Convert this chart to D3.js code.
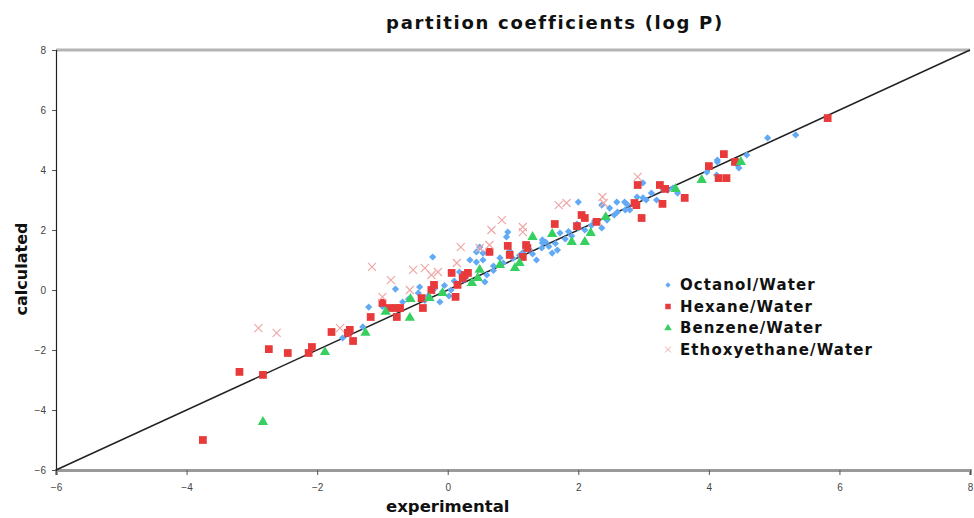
<!DOCTYPE html>
<html>
<head>
<meta charset="utf-8">
<script src="https://cdn.jsdelivr.net/npm/d3@7"></script>
<style>
  body { margin: 0; background: #fff; }
  .tick text { font-family: "Liberation Sans", sans-serif; font-size: 10px; fill: #444; }
</style>
</head>
<body>
<div id="chart"></div>
<script>
// data: [experimental, calculated]
var octanol = [[-1.61,-1.6],[-1.3,-1.23],[-1.21,-0.57],[-1.0,-0.55],[-0.8,0.03],[-0.69,-0.4],[-0.6,-0.3],
  [-0.43,0.1],[-0.45,-0.1],[-0.3,-0.2],[-0.23,1.1],[-0.12,-0.4],[-0.08,-0.07],[-0.2,0.05],[0.05,0.0],
  [0.1,0.3],[0.18,0.6],[0.34,1.0],[0.44,0.93],[0.44,1.27],[0.54,1.0],[0.54,1.23],[0.49,1.43],[0.57,0.27],
  [0.6,0.5],[0.7,0.65],[0.8,1.07],[0.9,1.77],[0.92,1.93],[0.85,0.9],[1.0,1.05],[1.36,1.0],[1.44,1.4],
  [1.45,1.57],[1.45,1.67],[1.6,1.23],[1.68,1.33],[1.72,1.9],[1.8,1.7],[1.9,1.8],[1.98,2.2],[2.0,2.07],
  [2.0,2.93],[2.1,2.0],[2.36,2.07],[2.36,2.83],[2.44,2.33],[2.48,2.73],[2.59,2.93],[2.6,2.6],[2.71,2.93],
  [2.72,2.67],[2.79,2.67],[2.99,3.07],[2.99,3.57],[3.04,3.0],[3.12,3.23],[3.2,3.0],[3.37,3.33],[3.52,3.23],
  [3.97,3.93],[4.12,3.83],[4.13,4.33],[4.13,4.27],[4.44,4.17],[4.46,4.07],[4.58,4.5],[4.9,5.07],[5.33,5.17],
  [0.25,0.35],[1.15,1.25],[1.3,1.2],[1.55,1.45],[2.25,2.3],[2.75,2.85],[3.3,3.35],[0.7,0.8],[-0.35,-0.35],
  [0.02,-0.2],[1.1,1.15],[1.25,1.35],[1.5,1.6],[1.65,1.55],[1.85,1.95],[2.2,2.15],[2.55,2.5],[2.9,3.1],
  [3.45,3.4],[0.3,0.55],[-0.05,0.15],[0.95,1.3]];

var hexane = [[-3.75,-5.0],[-3.19,-2.73],[-2.83,-2.83],[-2.74,-1.97],[-2.45,-2.1],[-2.13,-2.1],[-2.08,-1.9],
  [-1.78,-1.4],[-1.5,-1.33],[-1.53,-1.43],[-1.45,-1.7],[-1.18,-0.9],[-1.0,-0.43],[-0.89,-0.6],[-0.8,-0.6],
  [-0.73,-0.6],[-0.78,-0.9],[-0.4,-0.27],[-0.38,-0.6],[-0.25,0.0],[-0.21,0.17],[0.06,0.57],[0.12,-0.23],
  [0.15,0.17],[0.23,0.4],[0.26,0.5],[0.31,0.57],[0.64,1.27],[0.92,1.47],[0.95,1.17],[1.15,1.1],[1.22,1.4],
  [1.2,1.5],[1.64,2.2],[1.98,2.13],[2.05,2.5],[2.1,2.4],[2.28,2.27],[2.86,2.9],[2.89,2.83],[2.91,3.5],
  [2.97,2.4],[3.25,3.5],[3.33,3.37],[3.29,2.87],[3.63,3.07],[4.0,4.13],[4.15,3.73],[4.27,3.73],[4.23,4.53],
  [4.4,4.27],[5.82,5.73]];

var benzene = [[-2.83,-4.4],[-1.88,-2.07],[-1.26,-1.43],[-0.95,-0.73],[-0.58,-0.93],[-0.57,-0.3],[-0.28,-0.27],
  [-0.08,-0.1],[0.37,0.23],[0.46,0.4],[0.49,0.67],[0.8,0.83],[1.03,0.73],[1.1,0.9],[1.3,1.77],[1.6,1.87],
  [1.9,1.6],[2.1,1.6],[2.19,1.9],[2.42,2.43],[3.49,3.37],[3.89,3.67],[4.49,4.27]];

var ethoxy = [[-2.9,-1.27],[-2.62,-1.43],[-1.65,-1.27],[-1.16,0.77],[-0.87,0.33],[-1.0,-0.23],[-0.58,0.0],
  [-0.53,0.67],[-0.35,0.73],[-0.25,0.5],[-0.15,0.6],[0.14,0.9],[0.2,1.43],[0.49,1.4],[0.64,1.5],[0.67,2.0],
  [0.83,2.33],[1.15,2.1],[1.15,1.93],[1.7,2.83],[1.82,2.9],[2.37,3.1],[2.39,2.9],[2.91,3.77]];

var seriesNames = ["Octanol/Water", "Hexane/Water", "Benzene/Water", "Ethoxyethane/Water"];
var xTicks = [-6, -4, -2, 0, 2, 4, 6, 8];
var yTicks = [-6, -4, -2, 0, 2, 4, 6, 8];

var svgWidth = 974, svgHeight = 518;
var margin = {top: 50, right: 4, bottom: 48, left: 56};

var svg = d3.select('#chart').append('svg')
  .attr('width', svgWidth)
  .attr('height', svgHeight);
var width = svgWidth - margin.left - margin.right;
var height = svgHeight - margin.top - margin.bottom;
var g = svg.append('g')
  .attr('transform', 'translate(' + margin.left + ',' + margin.top + ')');

var x = d3.scaleLinear().domain([-6, 8]).range([0, width]);
var y = d3.scaleLinear().domain([-6, 8]).range([height, 0]);

// top border
g.append('line')
  .attr('x1', 0).attr('x2', width)
  .attr('y1', 0).attr('y2', 0)
  .attr('stroke', '#b4b4b4').attr('stroke-width', 3);

// axes
var xAxis = g.append('g')
  .attr('transform', 'translate(0,' + height + ')')
  .call(d3.axisBottom(x).tickValues(xTicks).tickSize(5).tickPadding(9));
xAxis.select('.domain').attr('stroke', '#9a9a9a').attr('stroke-width', 3);
xAxis.selectAll('.tick line').attr('stroke', '#555');

var yAxis = g.append('g')
  .call(d3.axisLeft(y).tickValues(yTicks).tickSize(4).tickPadding(6));
yAxis.select('.domain').attr('stroke', '#222').attr('stroke-width', 1.2);
yAxis.selectAll('.tick line').attr('stroke', '#555');

// y = x reference line
var diag = d3.line()
  .x(function(d) { return x(d); })
  .y(function(d) { return y(d); });
g.append('path')
  .datum([-6, 8])
  .attr('fill', 'none')
  .attr('stroke', '#222')
  .attr('stroke-width', 1.5)
  .attr('d', diag);

function drawSymbols(data, type, size, fill, rot) {
  g.append('g').selectAll('path')
    .data(data)
    .enter().append('path')
    .attr('transform', function(d) {
      return 'translate(' + x(d[0]) + ',' + y(d[1]) + ')' + (rot ? ' rotate(' + rot + ')' : '');
    })
    .attr('d', d3.symbol().type(type).size(size))
    .attr('fill', fill);
}

drawSymbols(octanol, d3.symbolSquare, 26, '#62aaf5', 45);
drawSymbols(hexane, d3.symbolSquare, 60, '#e8393b');
drawSymbols(benzene, d3.symbolTriangle, 46, '#35d060');

g.append('g').selectAll('path')
  .data(ethoxy)
  .enter().append('path')
  .attr('transform', function(d) { return 'translate(' + x(d[0]) + ',' + y(d[1]) + ')'; })
  .attr('d', d3.symbol().type(d3.symbolX).size(44))
  .attr('fill', 'none')
  .attr('stroke', '#f0a8a8')
  .attr('stroke-width', 1.2);

// legend
var legend = svg.append('g').attr('transform', 'translate(668,285)');
var legendTypes = [d3.symbolSquare, d3.symbolSquare, d3.symbolTriangle, d3.symbolX];
var legendColors = ['#62aaf5', '#e8393b', '#35d060', '#f0a8a8'];
seriesNames.forEach(function(name, i) {
  var row = legend.append('g').attr('transform', 'translate(0,' + (i * 21.5) + ')');
  var sym = row.append('path')
    .attr('d', d3.symbol().type(legendTypes[i]).size(i === 0 ? 14 : (i === 1 ? 30 : 24)));
  if (i === 0) sym.attr('transform', 'rotate(45)');
  if (i === 3) {
    sym.attr('fill', 'none').attr('stroke', legendColors[i]).attr('stroke-width', 1);
  } else {
    sym.attr('fill', legendColors[i]);
  }
  row.append('text')
    .attr('x', 12)
    .attr('dy', '0.35em')
    .attr('font-family', 'DejaVu Sans, sans-serif')
    .attr('font-weight', 'bold')
    .attr('font-size', '15px')
    .attr('letter-spacing', '1.1px')
    .attr('fill', '#111')
    .text(name);
});

// title and axis labels
svg.append('text')
  .attr('x', 555).attr('y', 29)
  .attr('text-anchor', 'middle')
  .attr('font-family', 'DejaVu Sans, sans-serif')
  .attr('font-weight', 'bold')
  .attr('font-size', '18px')
  .attr('letter-spacing', '1.7px')
  .attr('fill', '#111')
  .text('partition coefficients (log P)');

svg.append('text')
  .attr('x', margin.left + x(0)).attr('y', 512)
  .attr('text-anchor', 'middle')
  .attr('font-family', 'DejaVu Sans, sans-serif')
  .attr('font-weight', 'bold')
  .attr('font-size', '16.5px')
  .attr('fill', '#111')
  .text('experimental');

svg.append('text')
  .attr('transform', 'translate(27,' + (margin.top + y(0.7)) + ') rotate(-90)')
  .attr('text-anchor', 'middle')
  .attr('font-family', 'DejaVu Sans, sans-serif')
  .attr('font-weight', 'bold')
  .attr('font-size', '16px')
  .attr('fill', '#111')
  .text('calculated');
</script>
</body>
</html>
